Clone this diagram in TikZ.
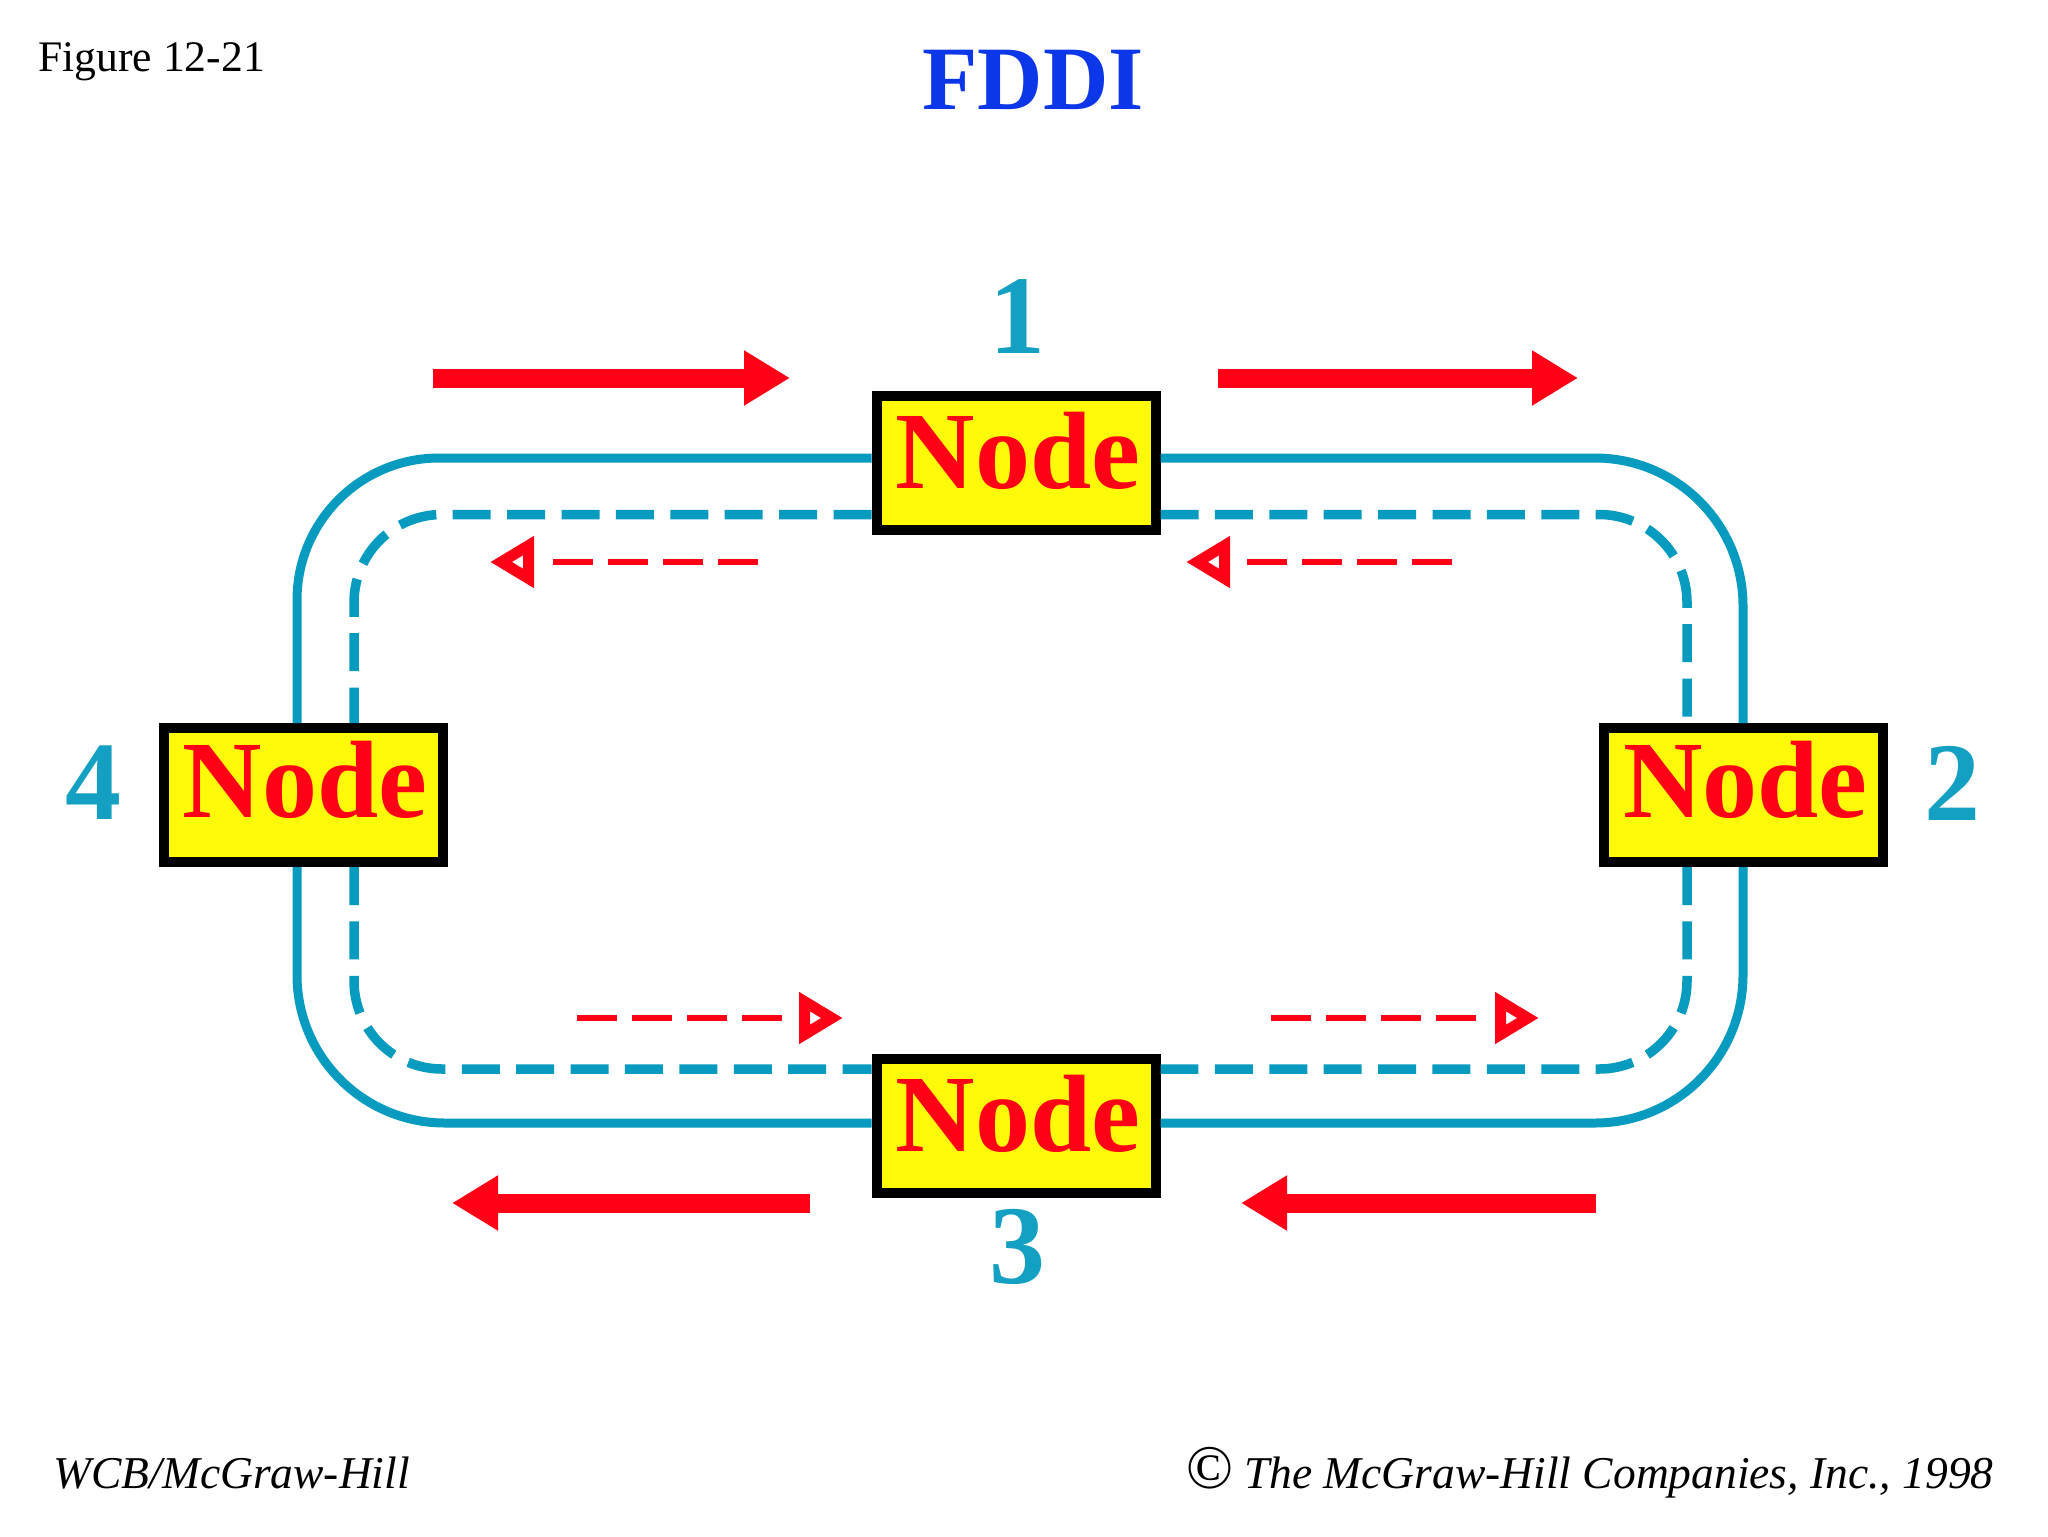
\documentclass[tikz,border=0pt]{standalone}
\usepackage{fontspec}
\setmainfont{Liberation Serif}
\usetikzlibrary{arrows.meta}
\definecolor{ringc}{RGB}{8,155,192}
\definecolor{numc}{RGB}{20,160,195}
\definecolor{redc}{RGB}{255,0,22}
\definecolor{bluec}{RGB}{12,55,232}
\definecolor{yellowc}{RGB}{255,250,10}
\tikzset{
  x=0.5pt,y=-0.5pt,
  station/.style={draw=black,line width=5pt,fill=yellowc,minimum width=139.5pt,minimum height=67pt,inner sep=0pt,text=redc,font=\fontsize{55}{55}\selectfont\bfseries},
  num/.style={text=numc,inner sep=0pt,font=\fontsize{56}{56}\selectfont\bfseries},
  ringsolid/.style={draw=ringc,line width=4.5pt,rounded corners=71pt},
  ringdash/.style={draw=ringc,line width=4.75pt,rounded corners=44pt,dash pattern=on 19pt off 8.2pt},
  bigarrow/.style={draw=redc,line width=9.5pt,-{Triangle[length=23pt,width=26pt]}},
  smallarrow/.style={draw=redc,line width=3pt,dash pattern=on 20pt off 7.5pt on 20pt off 7.5pt on 20pt off 7.5pt on 20pt off 40pt,-{Triangle[open,fill=white,length=22pt,width=24.5pt,line width=5.5pt]}},
  plain/.style={inner sep=0pt,font=\fontsize{21.8}{24}\selectfont},
  footer/.style={inner sep=0pt,font=\fontsize{22.75}{24}\selectfont\itshape}
}
\newcommand{\nodeword}[1]{\hspace{2pt}\raisebox{#1}[\height][\depth]{Node}}
\begin{document}
\begin{tikzpicture}
\useasboundingbox (0,0) rectangle (2048,1536);
\fill[white] (0,0) rectangle (2048,1536);
% stations
\node[station] (n1) at (1016,462.5) {\nodeword{6pt}};
\node[station] (n2) at (1743.5,795) {\nodeword{7.5pt}};
\node[station] (n3) at (1016,1126) {\nodeword{6pt}};
\node[station] (n4) at (303,795) {\nodeword{7.5pt}};
% ring reference levels
\coordinate (sNW) at (297,458);
\coordinate (sSE) at (1743,1123);
\coordinate (dNW) at (354,514.5);
\coordinate (dSE) at (1687,1069);
% solid ring
\draw[ringsolid] (n1.west |- sNW) -| (sNW |- n4.north);
\draw[ringsolid,rounded corners=74pt] (n1.east |- sNW) -| (sSE |- n2.north);
\draw[ringsolid,rounded corners=74pt] (n4.south -| sNW) |- (n3.west |- sSE);
\draw[ringsolid,rounded corners=74pt] (n2.south -| sSE) |- (n3.east |- sSE);
% dashed ring
\draw[ringdash] (n1.west |- dNW) -| (dNW |- n4.north);
\draw[ringdash] (n1.east |- dNW) -| (dSE |- n2.north);
\draw[ringdash] (n4.south -| dNW) |- (n3.west |- dSE);
\draw[ringdash] (n2.south -| dSE) |- (n3.east |- dSE);
% thick arrows
\draw[bigarrow] (433,378) coordinate (a1) -- (790,378) coordinate (b1);
\draw[bigarrow] (1218,378) coordinate (a2) -- (1578,378) coordinate (b2);
\draw[bigarrow] (810,1203) coordinate (a3) -- (452,1203) coordinate (b3);
\draw[bigarrow] (1596,1203) coordinate (a4) -- (1241,1203) coordinate (b4);
% small dashed arrows
\draw[smallarrow] (758,562) coordinate (c1) -- (490,562) coordinate (d1);
\draw[smallarrow] (1452,562) coordinate (c2) -- (1186,562) coordinate (d2);
\draw[smallarrow] (577,1018) coordinate (c3) -- (843,1018) coordinate (d3);
\draw[smallarrow] (1271,1018) coordinate (c4) -- (1539,1018) coordinate (d4);
% numbers
\node[num] (l1) at (1017,317) {1};
\node[num] (l2) at (1952,783) {2};
\node[num] (l3) at (1017,1247) {3};
\node[num] (l4) at (93,783) {4};
% texts
\node[text=bluec,inner sep=0pt,font=\fontsize{45.3}{45.3}\selectfont\bfseries] (title) at (1033,80) {FDDI};
\node[plain,anchor=base west] (fig) at (38,72) {Figure 12-21};
\node[footer,anchor=base west] (wcb) at (53,1488) {WCB/McGraw-Hill};
\node[footer,anchor=base east] (copy) at (1994,1488) {{\fontsize{31}{31}\selectfont ©}\ The McGraw-Hill Companies, Inc., 1998};
\end{tikzpicture}
\end{document}
